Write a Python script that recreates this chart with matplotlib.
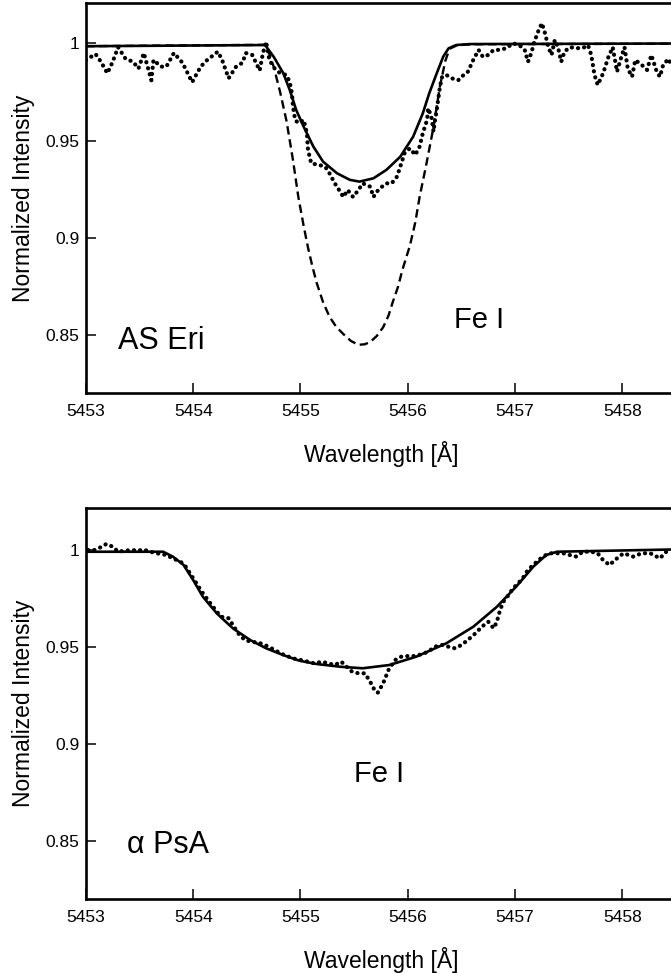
import matplotlib
matplotlib.use('Agg')
import matplotlib.pyplot as plt

plt.rcParams['font.family'] = ['Liberation Sans', 'DejaVu Sans']

# AS Eri: observed spectrum (dotted), fitted model (solid), model without rotation (dashed)
aseri_obs_wl = [5453.00, 5453.09, 5453.14, 5453.20, 5453.25, 5453.30, 5453.37, 5453.44,
                5453.49, 5453.54, 5453.61, 5453.63, 5453.70, 5453.75, 5453.82, 5453.90,
                5453.99, 5454.07, 5454.13, 5454.23, 5454.27, 5454.33, 5454.40, 5454.46,
                5454.49, 5454.55, 5454.62, 5454.65, 5454.68, 5454.71, 5454.76, 5454.81,
                5454.87, 5454.90, 5454.92, 5454.93, 5454.95, 5454.98, 5455.03, 5455.06,
                5455.07, 5455.10, 5455.17, 5455.23, 5455.27, 5455.32, 5455.37, 5455.40,
                5455.44, 5455.49, 5455.54, 5455.58, 5455.65, 5455.68, 5455.71, 5455.76,
                5455.80, 5455.85, 5455.90, 5455.94, 5455.97, 5456.02, 5456.07, 5456.11,
                5456.14, 5456.18, 5456.19, 5456.22, 5456.24, 5456.25, 5456.27, 5456.30,
                5456.32, 5456.36, 5456.41, 5456.47, 5456.52, 5456.56, 5456.61, 5456.66,
                5456.70, 5456.75, 5456.80, 5456.86, 5456.92, 5456.98, 5457.04, 5457.09,
                5457.12, 5457.15, 5457.18, 5457.22, 5457.25, 5457.28, 5457.31, 5457.34,
                5457.37, 5457.40, 5457.43, 5457.46, 5457.51, 5457.57, 5457.63, 5457.68,
                5457.71, 5457.74, 5457.77, 5457.82, 5457.87, 5457.91, 5457.95, 5457.99,
                5458.02, 5458.05, 5458.09, 5458.12, 5458.18, 5458.23, 5458.27, 5458.32,
                5458.35, 5458.38, 5458.43, 5458.46]
aseri_obs_int = [0.9914, 0.9945, 0.9905, 0.9846, 0.9905, 0.9980, 0.9920, 0.9905,
                 0.9870, 0.9950, 0.9810, 0.9914, 0.9880, 0.9880, 0.9950, 0.9900,
                 0.9800, 0.9880, 0.9914, 0.9957, 0.9914, 0.9820, 0.9880, 0.9900,
                 0.9950, 0.9940, 0.9860, 0.9950, 1.0008, 0.9914, 0.9870, 0.9846,
                 0.9837, 0.9800, 0.9743, 0.9674, 0.9606, 0.9590, 0.9606, 0.9538,
                 0.9452, 0.9383, 0.9375, 0.9366, 0.9332, 0.9280, 0.9237, 0.9210,
                 0.9246, 0.9210, 0.9246, 0.9280, 0.9263, 0.9210, 0.9237, 0.9263,
                 0.9280, 0.9280, 0.9315, 0.9383, 0.9435, 0.9460, 0.9426, 0.9469,
                 0.9538, 0.9606, 0.9666, 0.9623, 0.9546, 0.9590, 0.9657, 0.9777,
                 0.9828, 0.9837, 0.9820, 0.9810, 0.9837, 0.9854, 0.9914, 0.9966,
                 0.9930, 0.9940, 0.9966, 0.9966, 0.9975, 1.0000, 0.9990, 0.9966,
                 0.9905, 0.9948, 1.0008, 1.0068, 1.0103, 1.0050, 0.9980, 0.9940,
                 1.0017, 0.9980, 0.9905, 0.9957, 0.9980, 0.9975, 0.9975, 0.9990,
                 0.9940, 0.9837, 0.9786, 0.9845, 0.9930, 0.9980, 0.9854, 0.9930,
                 0.9980, 0.9870, 0.9828, 0.9914, 0.9889, 0.9863, 0.9940, 0.9854,
                 0.9828, 0.9889, 0.9920, 0.9880]

aseri_fit_wl = [5453.00, 5454.67, 5454.75, 5454.84, 5454.90, 5454.96, 5455.03, 5455.12,
                5455.21, 5455.34, 5455.46, 5455.55, 5455.68, 5455.80, 5455.93, 5456.05,
                5456.14, 5456.20, 5456.27, 5456.33, 5456.38, 5456.45, 5456.58, 5458.60]
aseri_fit_int = [0.9985, 0.9991, 0.9931, 0.9846, 0.9760, 0.9657, 0.9571, 0.9469,
                 0.9392, 0.9332, 0.9298, 0.9289, 0.9306, 0.9349, 0.9417, 0.9520,
                 0.9640, 0.9743, 0.9846, 0.9931, 0.9974, 0.9991, 0.9996, 0.9999]

aseri_norot_wl = [5453.00, 5454.68, 5454.75, 5454.81, 5454.87, 5454.93, 5454.98, 5455.03,
                  5455.07, 5455.11, 5455.15, 5455.21, 5455.27, 5455.33, 5455.40, 5455.47,
                  5455.54, 5455.60, 5455.65, 5455.71, 5455.77, 5455.82, 5455.86, 5455.91,
                  5455.95, 5456.02, 5456.07, 5456.11, 5456.17, 5456.24, 5456.30, 5456.35,
                  5456.39, 5456.46, 5456.60, 5458.60]
aseri_norot_int = [0.9985, 0.9992, 0.9880, 0.9750, 0.9600, 0.9400, 0.9210, 0.9060,
                   0.8950, 0.8855, 0.8770, 0.8670, 0.8595, 0.8545, 0.8505, 0.8470,
                   0.8450, 0.8453, 0.8465, 0.8495, 0.8540, 0.8600, 0.8670, 0.8750,
                   0.8836, 0.8960, 0.9080, 0.9210, 0.9370, 0.9570, 0.9780, 0.9910,
                   0.9972, 0.9990, 0.9995, 0.9998]

# alpha PsA: observed spectrum (dotted) and fitted model (solid)
psa_obs_wl = [5453.02, 5453.08, 5453.15, 5453.19, 5453.25, 5453.30, 5453.36, 5453.43,
              5453.49, 5453.53, 5453.60, 5453.66, 5453.71, 5453.75, 5453.81, 5453.88,
              5453.92, 5453.97, 5454.03, 5454.09, 5454.16, 5454.22, 5454.26, 5454.33,
              5454.37, 5454.42, 5454.48, 5454.54, 5454.61, 5454.67, 5454.73, 5454.79,
              5454.85, 5454.93, 5455.01, 5455.07, 5455.13, 5455.20, 5455.26, 5455.32,
              5455.38, 5455.43, 5455.48, 5455.54, 5455.60, 5455.65, 5455.69, 5455.72,
              5455.77, 5455.82, 5455.88, 5455.94, 5456.00, 5456.07, 5456.13, 5456.19,
              5456.25, 5456.32, 5456.38, 5456.44, 5456.50, 5456.56, 5456.63, 5456.69,
              5456.75, 5456.80, 5456.83, 5456.86, 5456.89, 5456.94, 5456.98, 5457.03,
              5457.08, 5457.12, 5457.17, 5457.22, 5457.26, 5457.32, 5457.39, 5457.45,
              5457.51, 5457.57, 5457.63, 5457.71, 5457.77, 5457.82, 5457.88, 5457.95,
              5458.01, 5458.10, 5458.18, 5458.26, 5458.35, 5458.44]
psa_obs_int = [1.0000, 1.0000, 1.0017, 1.0031, 1.0017, 0.9991, 0.9996, 1.0000,
               0.9996, 1.0003, 0.9991, 0.9983, 0.9978, 0.9974, 0.9957, 0.9940,
               0.9923, 0.9880, 0.9828, 0.9777, 0.9725, 0.9682, 0.9656, 0.9648,
               0.9613, 0.9570, 0.9536, 0.9527, 0.9522, 0.9510, 0.9493, 0.9475,
               0.9458, 0.9441, 0.9432, 0.9424, 0.9415, 0.9424, 0.9415, 0.9407,
               0.9424, 0.9398, 0.9373, 0.9364, 0.9364, 0.9320, 0.9278, 0.9264,
               0.9312, 0.9381, 0.9432, 0.9450, 0.9453, 0.9453, 0.9463, 0.9475,
               0.9501, 0.9510, 0.9501, 0.9493, 0.9510, 0.9536, 0.9570, 0.9604,
               0.9630, 0.9596, 0.9630, 0.9690, 0.9733, 0.9768, 0.9802, 0.9828,
               0.9862, 0.9897, 0.9923, 0.9948, 0.9966, 0.9983, 0.9983, 0.9983,
               0.9974, 0.9966, 0.9991, 0.9991, 0.9983, 0.9948, 0.9923, 0.9957,
               0.9983, 0.9966, 0.9983, 0.9983, 0.9957, 1.0009]

psa_fit_wl = [5453.00, 5453.72, 5453.81, 5453.91, 5454.00, 5454.09, 5454.22, 5454.37,
              5454.53, 5454.68, 5454.84, 5454.99, 5455.15, 5455.37, 5455.58, 5455.83,
              5456.08, 5456.36, 5456.61, 5456.83, 5457.01, 5457.17, 5457.29, 5457.39,
              5458.60]
psa_fit_int = [0.9991, 0.9991, 0.9966, 0.9923, 0.9845, 0.9759, 0.9673, 0.9596,
               0.9536, 0.9493, 0.9458, 0.9429, 0.9412, 0.9398, 0.9390, 0.9407,
               0.9450, 0.9519, 0.9604, 0.9707, 0.9811, 0.9914, 0.9974, 0.9991,
               1.0004]

xticks = [5453, 5454, 5455, 5456, 5457, 5458]
yticks = [0.85, 0.9, 0.95, 1.0]
ytick_labels = ['0.85', '0.9', '0.95', '1']

dots = (0, (0.05, 1.45))
dashes = (0, (3.6, 2.0))

fig = plt.figure(figsize=(6.71, 9.73), dpi=100)
ax1 = fig.add_axes([0.128, 0.596, 0.8795, 0.4009])
ax2 = fig.add_axes([0.128, 0.076, 0.8795, 0.402])

ax1.plot(aseri_fit_wl, aseri_fit_int, color='black', lw=1.9)
ax1.plot(aseri_norot_wl, aseri_norot_int, color='black', lw=1.7, linestyle=dashes)
ax1.plot(aseri_obs_wl, aseri_obs_int, color='black', lw=3.0, linestyle=dots,
         dash_capstyle='round')
ax1.text(5453.30, 0.8428, 'AS Eri', fontsize=22, ha='left', va='baseline')
ax1.text(5456.43, 0.8536, 'Fe I', fontsize=21, ha='left', va='baseline')
ax1.set_ylim(0.8202, 1.0207)

ax2.plot(psa_fit_wl, psa_fit_int, color='black', lw=1.9)
ax2.plot(psa_obs_wl, psa_obs_int, color='black', lw=3.0, linestyle=dots,
         dash_capstyle='round')
ax2.text(5453.38, 0.8437, 'α PsA', fontsize=22, ha='left', va='baseline')
ax2.text(5455.50, 0.8803, 'Fe I', fontsize=21, ha='left', va='baseline')
ax2.set_ylim(0.8200, 1.0217)

for ax in (ax1, ax2):
    ax.set_xlim(5453, 5458.5)
    ax.set_xticks(xticks)
    ax.set_xticklabels([str(t) for t in xticks])
    ax.set_yticks(yticks)
    ax.set_yticklabels(ytick_labels)
    ax.tick_params(direction='in', length=7.2, width=1.1, labelsize=12.5)
    ax.tick_params(axis='x', pad=8)
    ax.tick_params(axis='y', pad=4.5)
    for s in ax.spines.values():
        s.set_linewidth(1.9)
    ax.set_xlabel('Wavelength [Å]', fontsize=16.5, labelpad=16)
    ax.set_ylabel('Normalized Intensity', fontsize=16.5, labelpad=8)

fig.savefig('out.png', dpi=100)
